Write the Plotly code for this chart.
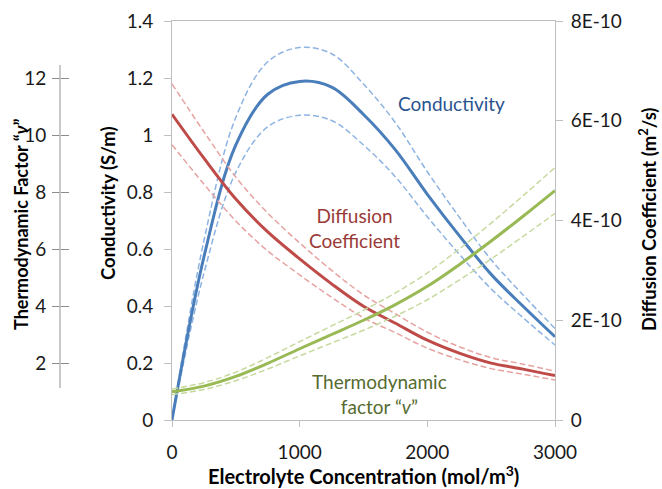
import plotly.graph_objects as go

# Electrolyte concentration (mol/m^3)
conc = [0, 250, 500, 750, 1000, 1250, 1500, 1750, 2000, 2250, 2500, 2750, 3000]

# Conductivity (S/m) with upper / lower bounds
cond = [0, 0.572, 0.965, 1.143, 1.188, 1.168, 1.072, 0.948, 0.792, 0.647, 0.511, 0.399, 0.292]
cond_hi = [0, 0.629, 1.062, 1.257, 1.307, 1.285, 1.179, 1.043, 0.871, 0.712, 0.562, 0.439, 0.321]
cond_lo = [0, 0.515, 0.869, 1.029, 1.069, 1.051, 0.965, 0.853, 0.713, 0.582, 0.460, 0.359, 0.263]

# Diffusion coefficient (m^2/s)
diff = [6.13e-10, 5.25e-10, 4.43e-10, 3.77e-10, 3.23e-10, 2.73e-10, 2.28e-10,
        1.94e-10, 1.60e-10, 1.34e-10, 1.14e-10, 1.02e-10, 0.89e-10]
diff_hi = [6.74e-10, 5.78e-10, 4.87e-10, 4.15e-10, 3.55e-10, 3.00e-10, 2.51e-10,
           2.13e-10, 1.76e-10, 1.47e-10, 1.25e-10, 1.12e-10, 0.98e-10]
diff_lo = [5.52e-10, 4.73e-10, 3.99e-10, 3.39e-10, 2.91e-10, 2.46e-10, 2.05e-10,
           1.75e-10, 1.44e-10, 1.21e-10, 1.03e-10, 0.92e-10, 0.80e-10]

# Thermodynamic factor
thermo = [0.99, 1.19, 1.53, 1.99, 2.50, 3.00, 3.50, 4.05, 4.69, 5.45, 6.28, 7.15, 8.05]
thermo_hi = [1.09, 1.31, 1.68, 2.19, 2.75, 3.30, 3.85, 4.46, 5.16, 6.00, 6.91, 7.87, 8.86]
thermo_lo = [0.89, 1.07, 1.38, 1.79, 2.25, 2.70, 3.15, 3.65, 4.22, 4.91, 5.65, 6.44, 7.25]

# Tick labels
x_ticks = [0, 1000, 2000, 3000]
diff_tickvals = [0, 2e-10, 4e-10, 6e-10, 8e-10]
diff_ticktext = ["0", "2E-10", "4E-10", "6E-10", "8E-10"]
thermo_ticks = [2, 4, 6, 8, 10, 12]

FONT = "Lato, Open Sans, sans-serif"
BLUE, BLUE_L = "#4A7EBB", "#8EB4E3"
RED, RED_L = "#BE4B48", "#E6A3A2"
GREEN, GREEN_L = "#98B954", "#C6D99E"
DASH = "6px,3px"

fig = go.Figure()

def add(y, color, width, dash, yaxis):
    fig.add_trace(go.Scatter(
        x=conc, y=y, mode="lines", yaxis=yaxis, showlegend=False, hoverinfo="skip",
        line=dict(color=color, width=width, dash=dash, shape="spline", smoothing=1.0)))

# dashed bounds
add(thermo_hi, GREEN_L, 1.5, DASH, "y4")
add(thermo_lo, GREEN_L, 1.5, DASH, "y4")
add(diff_hi, RED_L, 1.5, DASH, "y2")
add(diff_lo, RED_L, 1.5, DASH, "y2")
add(cond_hi, BLUE_L, 1.5, DASH, "y")
add(cond_lo, BLUE_L, 1.5, DASH, "y")
# solid curves
add(thermo, GREEN, 3, "solid", "y3")
add(diff, RED, 3, "solid", "y2")
add(cond, BLUE, 3, "solid", "y")

AX = "#BFBFBF"
TICKFONT = dict(family=FONT, size=19, color="#1a1a1a")
W_L, W_R = 50, 107
plot_w = 662 - W_L - W_R
thermo_pos = (60 - W_L) / plot_w

fig.update_layout(
    width=662, height=489,
    margin=dict(l=W_L, r=W_R, t=21, b=69, autoexpand=False),
    paper_bgcolor="white", plot_bgcolor="white",
    font=dict(family=FONT, size=19, color="#1a1a1a"),
    xaxis=dict(domain=[(172 - W_L) / plot_w, 1], range=[0, 3000], tickvals=x_ticks,
               showline=True, linecolor=AX, linewidth=1, mirror=True,
               ticks="outside", ticklen=6, tickcolor=AX, showgrid=False, zeroline=False,
               tickfont=TICKFONT, ticklabelstandoff=9, automargin=False),
    yaxis=dict(range=[0, 1.4], dtick=0.2, showline=True, linecolor=AX, linewidth=1,
               ticks="outside", ticklen=7, tickcolor=AX, showgrid=False, zeroline=False,
               tickfont=TICKFONT, ticklabelstandoff=7, automargin=False),
    yaxis2=dict(range=[0, 8e-10], overlaying="y", side="right", anchor="x",
                tickvals=diff_tickvals, ticktext=diff_ticktext,
                showline=True, linecolor=AX, linewidth=1,
                ticks="outside", ticklen=7, tickcolor=AX, showgrid=False, zeroline=False,
                tickfont=TICKFONT, ticklabelstandoff=4, automargin=False),
    yaxis3=dict(range=[0, 14], overlaying="y", anchor="free", position=thermo_pos, side="left",
                tickvals=thermo_ticks, showline=False, ticks="outside", ticklen=8,
                tickcolor="#8C8C8C", showgrid=False, zeroline=False,
                tickfont=TICKFONT, ticklabelstandoff=2, automargin=False),
    yaxis4=dict(range=[0, 14], overlaying="y", anchor="free", position=thermo_pos, side="right",
                tickvals=thermo_ticks, showline=False, ticks="outside", ticklen=8,
                tickcolor="#8C8C8C", showticklabels=False, showgrid=False, zeroline=False,
                automargin=False),
)

# thermodynamic factor axis line (spans only part of the height, as in the original)
fig.add_shape(type="line", xref="paper", x0=thermo_pos, x1=thermo_pos,
              yref="y3", y0=1.12, y1=12.46, line=dict(color="#A6A6A6", width=1.2))

def px_x(p):
    return (p - W_L) / plot_w

def px_y(p):
    return (420 - p) / 399

def title(text, x, y, angle=0, size=18):
    fig.add_annotation(text="<b>" + text + "</b>", xref="paper", yref="paper",
                       x=px_x(x), y=px_y(y), xanchor="center", yanchor="middle",
                       textangle=angle, showarrow=False,
                       font=dict(family=FONT, size=size, color="#000000"))

title("Electrolyte Concentration (mol/m<sup>3</sup>)", 363, 475, size=20)
title("Conductivity (S/m)", 108, 203, -90, size=18.5)
title("Thermodynamic Factor “<i>ν</i>”", 21, 225, -90)
title("Diffusion Coefficient (m<sup>2</sup>/s)", 647, 220, -90, size=18.5)

# in-plot labels
def label(text, x, y, color):
    fig.add_annotation(text=text, x=x, y=y, xref="x", yref="y", xanchor="center", yanchor="middle",
                       showarrow=False, font=dict(family=FONT, size=19, color=color))

label("Conductivity", 2193, 1.109, "#2A5490")
label("Diffusion<br>Coefficient", 1433, 0.672, "#9A3A38")
label("Thermodynamic<br>factor “<i>v</i>”", 1629, 0.0895, "#556B2F")

fig.write_html("out.html")
